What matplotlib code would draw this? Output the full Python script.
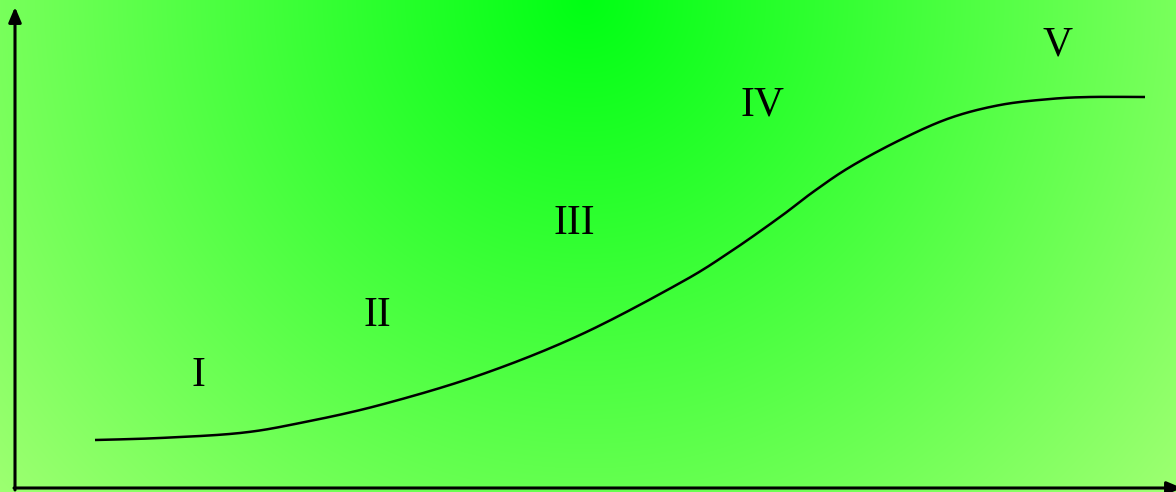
import numpy as np
import matplotlib
matplotlib.use("Agg")
import matplotlib.pyplot as plt

# Curve data (x position, level)
curve_x = [95, 160, 240, 300, 380, 480, 580, 680, 730, 780, 813, 850, 900, 950, 1000, 1050, 1090, 1145]
curve_y = [52, 54, 59, 69, 87, 117, 157, 209, 240, 275, 300, 325, 352, 374, 387, 393, 395, 395]

# Stage labels
labels = ["I", "II", "III", "IV", "V"]
label_x = [198, 377, 574, 763, 1058]
label_y = [116, 176, 268, 387, 447]

W, H = 1176, 492
fig = plt.figure(figsize=(W / 100, H / 100), dpi=100)
ax = fig.add_axes([0, 0, 1, 1])
ax.set_xlim(0, W)
ax.set_ylim(0, H)
ax.axis("off")

# radial green gradient background
yy, xx = np.mgrid[0:H, 0:W]
d = np.sqrt((xx - 585.0) ** 2 + (yy - 0.0) ** 2) / 780.0
t = np.clip(d, 0, 1)[..., None]
c0 = np.array([0, 255, 20]) / 255.0
c1 = np.array([160, 255, 115]) / 255.0
img = c0 + (c1 - c0) * t
ax.imshow(img, extent=[0, W, 0, H], origin="upper", aspect="auto", zorder=0)

# axes arrows
style = "-|>,head_length=0.9,head_width=0.38"
ax.annotate("", xy=(15, H - 7), xytext=(15, H - 490),
            arrowprops=dict(arrowstyle=style, lw=2.2, color="black",
                            shrinkA=0, shrinkB=0), zorder=3, annotation_clip=False)
ax.annotate("", xy=(W + 6, H - 488), xytext=(14, H - 488),
            arrowprops=dict(arrowstyle=style, lw=2.2, color="black",
                            shrinkA=0, shrinkB=0), zorder=3, annotation_clip=False)

# smooth curve through points (Catmull-Rom)
xs = np.array(curve_x, float)
ys = np.array(curve_y, float)
pts = np.column_stack([xs, ys])
ext = np.vstack([pts[0], pts, pts[-1]])
out = []
for i in range(1, len(ext) - 2):
    p0, p1, p2, p3 = ext[i - 1], ext[i], ext[i + 1], ext[i + 2]
    for s in np.linspace(0, 1, 20, endpoint=False):
        out.append(0.5 * ((2 * p1) + (-p0 + p2) * s + (2 * p0 - 5 * p1 + 4 * p2 - p3) * s ** 2
                          + (-p0 + 3 * p1 - 3 * p2 + p3) * s ** 3))
out.append(pts[-1])
out = np.array(out)
ax.plot(out[:, 0], out[:, 1], color="black", lw=1.8, solid_capstyle="butt", zorder=2)

for lab, x, y in zip(labels, label_x, label_y):
    ax.text(x, y, lab, fontsize=30, family="Liberation Serif", ha="center", va="center", color="black", zorder=4)

fig.savefig("out.png", dpi=100)
